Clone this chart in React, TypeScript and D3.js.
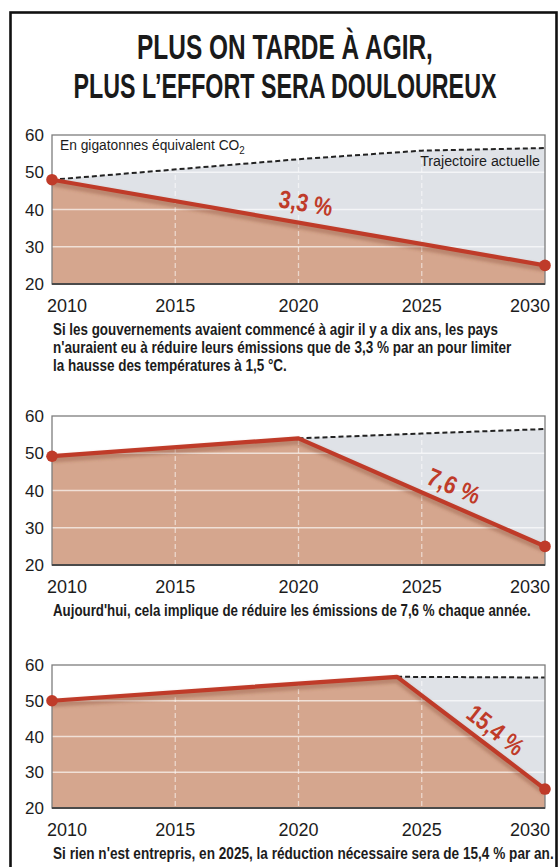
import React, { useLayoutEffect, useRef, useState } from "react";
import * as d3 from "d3";

// ---------- data ----------
const titleLines = ["PLUS ON TARDE À AGIR,", "PLUS L’EFFORT SERA DOULOUREUX"];
const xTickYears = [2010, 2015, 2020, 2025, 2030];
const yTickValues = [20, 30, 40, 50, 60];
const gridValues = [30, 40, 50];
const gridYears = [2015, 2020, 2025];

const path1Years = [2010, 2030];
const path1Values = [48, 25];
const traj1Years = [2010, 2020, 2025, 2030];
const traj1Values = [48, 53.5, 55.8, 56.5];

const path2Years = [2010, 2020, 2030];
const path2Values = [49.2, 54, 25];
const traj2Years = [2020, 2025, 2030];
const traj2Values = [54, 55.3, 56.5];

const path3Years = [2010, 2024, 2030];
const path3Values = [50, 56.7, 25.3];
const traj3Years = [2024, 2030];
const traj3Values = [56.7, 56.5];

const rateLabels = ["3,3 %", "7,6 %", "15,4 %"];
const rateLabelYears = [2020.3, 2026.3, 2028.0];
const rateLabelValues = [41.7, 41.2, 41.8];
const rateLabelAngles = [10, 23, 38];

const caption1 = [
  "Si les gouvernements avaient commencé à agir il y a dix ans, les pays",
  "n'auraient eu à réduire leurs émissions que de 3,3 % par an pour limiter",
  "la hausse des températures à 1,5 °C.",
];
const caption2 = ["Aujourd'hui, cela implique de réduire les émissions de 7,6 % chaque année."];
const caption3 = ["Si rien n'est entrepris, en 2025, la réduction nécessaire sera de 15,4 % par an."];

const unitLabel = "En gigatonnes équivalent CO";
const unitSub = "2";
const trajLabel = "Trajectoire actuelle";

// ---------- layout / style ----------
const W = 558;
const H = 867;
const plotLeft = 52;
const plotRight = 545;
const COND = "'Liberation Sans Narrow', 'Liberation Sans', Arimo, Roboto, Arial, sans-serif";
const SANS = "'Liberation Sans', Arimo, Arial, 'DejaVu Sans', sans-serif";
const RED = "#bf3b29";
const SALMON = "#d5a68e";
const GREY = "#dfe2e7";
const INK = "#1c1c1c";

type Pt = [number, number];
const zip = (a: number[], b: number[]): Pt[] => a.map((v, i) => [v, b[i]]);

// Text squeezed horizontally to a target width (condensed look)
function FitText({
  x, y, width, anchor = "start", rotate = 0, children, ...rest
}: any) {
  const ref = useRef<SVGTextElement>(null);
  const [s, setS] = useState(1);
  useLayoutEffect(() => {
    if (ref.current) {
      const n = ref.current.getComputedTextLength();
      if (n > 0) setS(width / n);
    }
  }, [width, children]);
  return (
    <g transform={`translate(${x},${y}) rotate(${rotate}) scale(${s},1)`}>
      <text ref={ref} x={0} y={0} textAnchor={anchor} {...rest}>
        {children}
      </text>
    </g>
  );
}

const charts = [
  {
    top: 135, bottom: 284,
    path: zip(path1Years, path1Values),
    traj: zip(traj1Years, traj1Values),
    caption: caption1,
    captionWidths: [445, 459, 234],
    label: 0,
    unit: true,
  },
  {
    top: 416, bottom: 565,
    path: zip(path2Years, path2Values),
    traj: zip(traj2Years, traj2Values),
    caption: caption2,
    captionWidths: [478],
    label: 1,
    unit: false,
  },
  {
    top: 665, bottom: 808,
    path: zip(path3Years, path3Values),
    traj: zip(traj3Years, traj3Values),
    caption: caption3,
    captionWidths: [501],
    label: 2,
    unit: false,
  },
];
const rateLabelWidths = [54, 55, 65];

const x = d3.scaleLinear().domain([2010, 2030]).range([plotLeft, plotRight]);

function Panel({ c, idx }: { c: (typeof charts)[number]; idx: number }) {
  const y = d3.scaleLinear().domain([20, 60]).range([c.bottom, c.top]);
  const line = d3.line<Pt>().x((d) => x(d[0])).y((d) => y(d[1]));
  const area = d3
    .area<Pt>()
    .x((d) => x(d[0]))
    .y0(y(20))
    .y1((d) => y(d[1]));
  const trajStart = c.traj[0][0];
  const redPart = c.path.filter((d) => d[0] >= trajStart).slice().reverse();
  const greyPoly = line([...c.traj, ...redPart]) + "Z";
  const first = c.path[0];
  const last = c.path[c.path.length - 1];
  const li = c.label;
  const lx = x(rateLabelYears[li]);
  const ly = y(rateLabelValues[li]);
  const clipId = `clip${idx}`;
  return (
    <g>
      <defs>
        <clipPath id={clipId}>
          <rect x={plotLeft} y={c.top} width={plotRight - plotLeft} height={c.bottom - c.top} />
        </clipPath>
      </defs>
      <rect x={plotLeft} y={c.top} width={plotRight - plotLeft} height={c.bottom - c.top} fill="#fff" />
      <g clipPath={`url(#${clipId})`}>
        <path d={greyPoly} fill={GREY} />
        <path d={area(c.path) || ""} fill={SALMON} />
        {gridValues.map((v) => (
          <line key={"h" + v} x1={plotLeft} x2={plotRight} y1={y(v)} y2={y(v)} stroke="#fff" strokeOpacity={0.65} strokeWidth={1.6} />
        ))}
        {gridYears.map((yr) => (
          <line key={"v" + yr} x1={x(yr)} x2={x(yr)} y1={c.top} y2={c.bottom} stroke="#fff" strokeOpacity={0.55} strokeWidth={1.3} strokeDasharray="5,3" />
        ))}
        <path d={line(c.traj) || ""} fill="none" stroke="#222" strokeWidth={2} strokeDasharray="5,3" />
        <path d={line(c.path) || ""} fill="none" stroke="#8a4a33" strokeOpacity={0.35} strokeWidth={7} transform="translate(0,3)" filter="url(#blur)" />
        <path d={line(c.path) || ""} fill="none" stroke={RED} strokeWidth={4.2} strokeLinejoin="round" />
      </g>
      <rect x={plotLeft} y={c.top} width={plotRight - plotLeft} height={c.bottom - c.top} fill="none" stroke="#7d7d7d" strokeWidth={1.3} />
      <line x1={plotLeft} x2={plotRight} y1={c.bottom} y2={c.bottom} stroke="#4a4a4a" strokeWidth={2.2} />
      <circle cx={x(first[0])} cy={y(first[1])} r={5.8} fill={RED} />
      <circle cx={x(last[0])} cy={y(last[1])} r={5.8} fill={RED} />
      <FitText
        x={lx}
        y={ly}
        rotate={rateLabelAngles[li]}
        width={rateLabelWidths[li]}
        anchor="middle"
        dominantBaseline="central"
        fontFamily={COND}
        fontWeight="bold"
        fontSize={25}
        fill={RED}
      >
        {rateLabels[li]}
      </FitText>
      {c.unit && (
        <FitText x={60} y={c.top + 15} width={185} fontFamily={COND} fontSize={15.5} fill={INK}>
          {unitLabel}
          <tspan fontSize={11} dy={4}>{unitSub}</tspan>
        </FitText>
      )}
      {c.unit && (
        <FitText x={540} y={c.top + 31} width={120} anchor="end" fontFamily={COND} fontSize={15.5} fill={INK}>
          {trajLabel}
        </FitText>
      )}
      {yTickValues.map((v) => (
        <text key={"yl" + v} x={44} y={y(v) + 6} textAnchor="end" fontFamily={SANS} fontSize={17} fill={INK}>
          {v}
        </text>
      ))}
      {xTickYears.map((yr, i) => (
        <text
          key={"xl" + yr}
          x={i === 0 ? x(yr) - 5 : i === xTickYears.length - 1 ? x(yr) + 5 : x(yr)}
          y={c.bottom + 28}
          textAnchor={i === 0 ? "start" : i === xTickYears.length - 1 ? "end" : "middle"}
          fontFamily={SANS}
          fontSize={18}
          fill={INK}
        >
          {yr}
        </text>
      ))}
      {c.caption.map((ln, i) => (
        <FitText
          key={"cap" + i}
          x={53}
          y={c.bottom + 51 + i * 18}
          width={c.captionWidths[i]}
          fontFamily={COND}
          fontWeight="bold"
          fontSize={16}
          fill={INK}
        >
          {ln}
        </FitText>
      ))}
    </g>
  );
}

export default function App() {
  return (
    <svg
      width={W}
      height={H}
      viewBox={`0 0 ${W} ${H}`}
      style={{ position: "absolute", left: 0, top: 0, display: "block", background: "#fff" }}
    >
      <defs>
        <filter id="blur" x="-5%" y="-50%" width="110%" height="200%">
          <feGaussianBlur stdDeviation={1.6} />
        </filter>
      </defs>
      <rect x={0} y={0} width={W} height={H} fill="#fff" />
      <rect x={10.5} y={12.5} width={546} height={900} fill="none" stroke="#111" strokeWidth={2.6} />
      {titleLines.map((t, i) => (
        <FitText
          key={"t" + i}
          x={285}
          y={58.5 + i * 39}
          width={i === 0 ? 296 : 423}
          anchor="middle"
          fontFamily={COND}
          fontWeight="bold"
          fontSize={36}
          fill="#1a1a1a"
        >
          {t}
        </FitText>
      ))}
      {charts.map((c, i) => (
        <Panel key={i} c={c} idx={i} />
      ))}
    </svg>
  );
}
